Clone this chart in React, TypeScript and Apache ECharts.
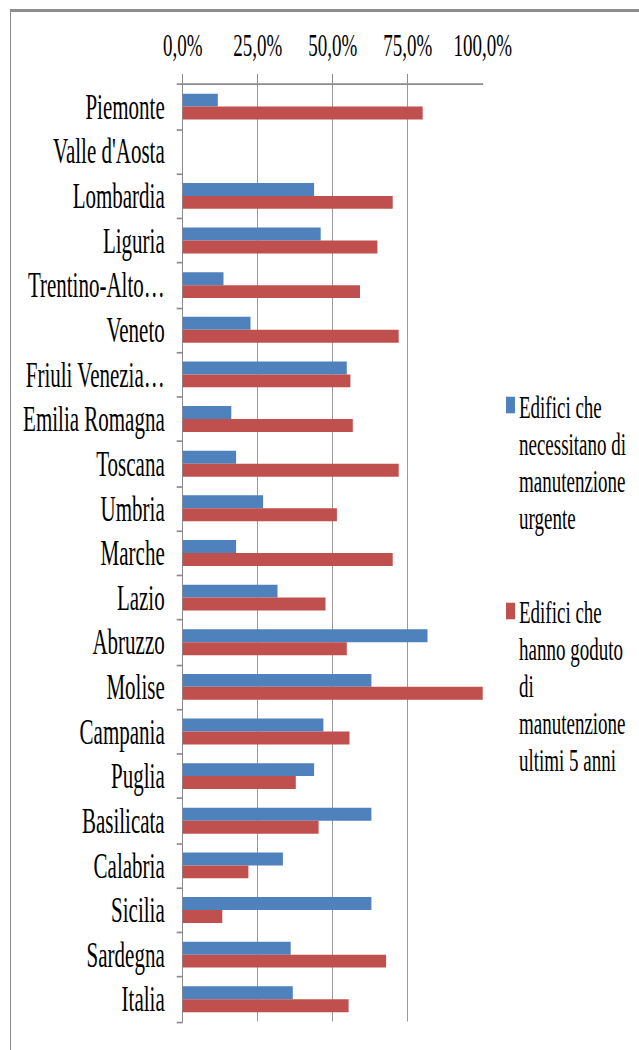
import React, { useEffect, useRef } from "react";
import * as echarts from "echarts";

const categories = [
  "Piemonte",
  "Valle d'Aosta",
  "Lombardia",
  "Liguria",
  "Trentino-Alto…",
  "Veneto",
  "Friuli Venezia…",
  "Emilia Romagna",
  "Toscana",
  "Umbria",
  "Marche",
  "Lazio",
  "Abruzzo",
  "Molise",
  "Campania",
  "Puglia",
  "Basilicata",
  "Calabria",
  "Sicilia",
  "Sardegna",
  "Italia",
];

const urgentValues = [
  11.7, null, 43.8, 46.0, 13.6, 22.6, 54.7, 16.2, 17.8, 26.8, 17.8, 31.6, 81.6,
  62.9, 46.9, 43.8, 62.9, 33.4, 62.9, 36.0, 36.7,
];

const maintainedValues = [
  80.0, null, 70.0, 64.9, 59.1, 72.0, 55.9, 56.7, 72.0, 51.4, 70.0, 47.6, 54.7,
  100.0, 55.6, 37.7, 45.3, 21.9, 13.2, 67.8, 55.3,
];

const seriesNames = [
  "Edifici che necessitano di manutenzione urgente",
  "Edifici che hanno goduto di manutenzione ultimi 5 anni",
];

const legendLines = [
  ["Edifici che", "necessitano di", "manutenzione", "urgente"],
  ["Edifici che", "hanno goduto", "di", "manutenzione", "ultimi 5 anni"],
];

const tickValues = [0, 25, 50, 75];

const seriesColors = ["#4F81BD", "#C0504D"];

const W = 639;
const H = 1050;
const S = 1.7; // vertical stretch of the reference picture
const H0 = H / S;

export default function App() {
  const ref = useRef<HTMLDivElement>(null);

  useEffect(() => {
    document.body.style.margin = "0";
    const chart = echarts.init(ref.current as HTMLDivElement, null, {
      renderer: "svg",
    });
    const font = "Liberation Serif";
    const lh = 37 / S;
    const legendTop = [407 / S - lh / 2, 612 / S - lh / 2];
    const iconTop = [396.7 / S, 602.7 / S];

    chart.setOption({
      animation: false,
      grid: {
        left: 182.7,
        right: W - 482.7,
        top: 84.3 / S,
        bottom: (H - 1021) / S,
        containLabel: false,
      },
      xAxis: {
        type: "value",
        position: "top",
        min: 0,
        max: 100,
        interval: 25,
        axisLine: { show: true, lineStyle: { color: "#8c8c8c", width: 1 } },
        axisTick: {
          show: true,
          length: 6,
          customValues: tickValues,
          lineStyle: { color: "#8c8c8c", width: 1 },
        },
        axisLabel: {
          margin: 13.4,
          fontFamily: font,
          fontSize: 19,
          color: "#000",
          formatter: (v: number) => v.toFixed(1).replace(".", ",") + "%",
        },
        splitLine: {
          show: true,
          lineStyle: {
            color: ["#999", "#999", "#999", "#999", "rgba(0,0,0,0)"],
            width: 1,
          },
        },
      },
      yAxis: {
        type: "category",
        inverse: true,
        data: categories,
        axisLine: { show: true, lineStyle: { color: "#8c8c8c", width: 1 } },
        axisTick: {
          show: true,
          length: 6,
          interval: 0,
          lineStyle: { color: "#8c8c8c", width: 1 },
        },
        axisLabel: {
          interval: 0,
          margin: 18,
          fontFamily: font,
          fontSize: 21,
          color: "#000",
        },
      },
      series: [
        {
          type: "bar",
          name: seriesNames[0],
          data: urgentValues,
          itemStyle: { color: seriesColors[0] },
          barGap: "0%",
          barCategoryGap: "42%",
        },
        {
          type: "bar",
          name: seriesNames[1],
          data: maintainedValues,
          itemStyle: { color: seriesColors[1] },
          barGap: "0%",
          barCategoryGap: "42%",
        },
      ],
      graphic: legendLines.flatMap((lines, i) => [
        {
          type: "rect",
          shape: { x: 506, y: iconTop[i], width: 9, height: 16.6 / S },
          style: { fill: seriesColors[i] },
        },
        {
          type: "text",
          x: 519,
          y: legendTop[i],
          style: {
            text: lines.join("\n"),
            fontFamily: font,
            fontSize: 19,
            lineHeight: lh,
            fill: "#000",
            align: "left",
            verticalAlign: "top",
          },
        },
      ]),
    });
    return () => chart.dispose();
  }, []);

  return (
    <div
      style={{
        position: "relative",
        width: W,
        height: H,
        overflow: "hidden",
        background: "#fff",
      }}
    >
      <div
        style={{
          position: "absolute",
          left: 10,
          top: 9,
          width: W + 50,
          height: H + 50,
          borderTop: "3px solid #8c8c8c",
          borderLeft: "1px solid #8c8c8c",
          boxSizing: "border-box",
        }}
      />
      <div
        ref={ref}
        style={{
          position: "absolute",
          left: 0,
          top: 0,
          width: W,
          height: H0,
          transform: `scaleY(${S})`,
          transformOrigin: "0 0",
        }}
      />
    </div>
  );
}
